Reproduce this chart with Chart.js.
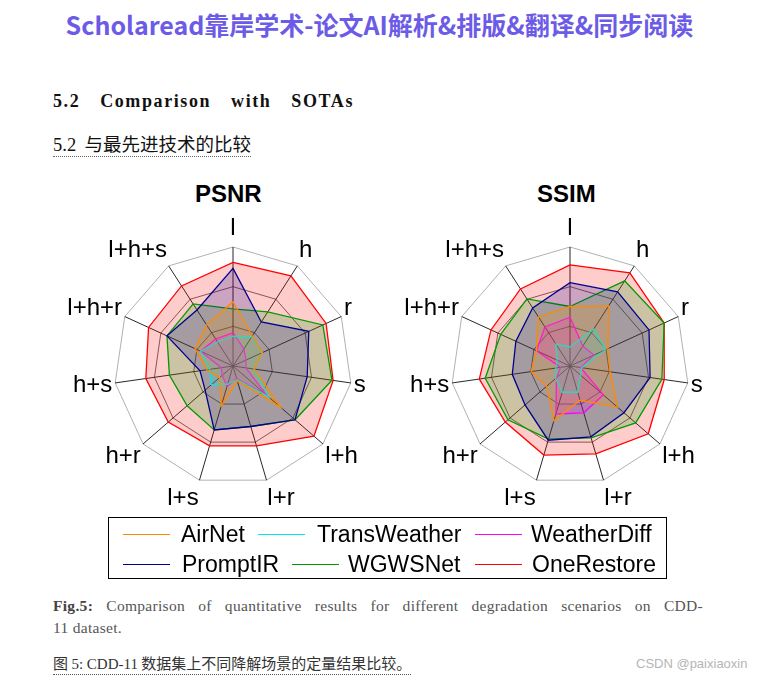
<!DOCTYPE html>
<html>
<head>
<meta charset="utf-8">
<script src="https://cdn.jsdelivr.net/npm/chart.js@4/dist/chart.umd.min.js"></script>
<style>
  html, body { margin: 0; padding: 0; background: #fff; }
  body { width: 759px; height: 682px; position: relative; overflow: hidden; }
  .abs { position: absolute; white-space: nowrap; }
  #banner { left: 0; width: 759px; top: 6px; text-align: center; font-family: "Noto Sans CJK SC", sans-serif; font-weight: bold; font-size: 25px; color: #6b5be6; }
  #sec { left: 53px; top: 91px; width: 301px; font-family: "Liberation Serif", serif; font-weight: bold; font-size: 18px; letter-spacing: 1.6px; color: #111; text-align: justify; text-align-last: justify; }
  #secZh { left: 53px; top: 132px; font-family: "Noto Sans CJK SC", sans-serif; font-size: 18.5px; color: #111; border-bottom: 1.5px dotted #666; line-height: 22px; }
  #secZh .num { font-family: "Liberation Serif", serif; }
  .ctitle { top: 180px; font-family: "Liberation Sans", Arial, sans-serif; font-weight: bold; font-size: 24px; color: #000; }
  canvas { position: absolute; }
  #legend { left: 108px; top: 517px; width: 557px; height: 60px; border: 1px solid #000; }
  .item { position: absolute; font-family: "Liberation Sans", Arial, sans-serif; font-size: 23px; color: #000; line-height: 26px; }
  .sw { position: absolute; height: 0; border-top: 1.6px solid; width: 47px; }
  #cap1 { left: 53px; top: 597px; width: 650px; font-family: "Liberation Serif", serif; font-size: 15.5px; letter-spacing: 0.3px; color: #555; text-align: justify; text-align-last: justify; }
  #cap2 { left: 53px; top: 619px; font-family: "Liberation Serif", serif; font-size: 15.5px; letter-spacing: 0.3px; color: #555; }
  #cap3 { left: 53px; top: 653px; font-family: "Noto Sans CJK SC", sans-serif; font-size: 15px; color: #333; border-bottom: 1.5px dotted #555; line-height: 19px; }
  #cap3 .num { font-family: "Liberation Serif", serif; }
  #csdn { left: 636px; top: 656px; font-family: "Liberation Sans", Arial, sans-serif; font-size: 13px; color: #b5b5b5; }
</style>
</head>
<body>
<div id="banner" class="abs">Scholaread靠岸学术-论文AI解析&amp;排版&amp;翻译&amp;同步阅读</div>
<div id="sec" class="abs">5.2 Comparison with SOTAs</div>
<div id="secZh" class="abs"><span class="num">5.2</span>&nbsp; 与最先进技术的比较</div>

<div class="abs ctitle" style="left:195px">PSNR</div>
<div class="abs ctitle" style="left:537px">SSIM</div>

<canvas id="psnrChart" width="360" height="320" style="left:53px; top:206px"></canvas>
<canvas id="ssimChart" width="360" height="320" style="left:390px; top:206px"></canvas>

<div id="legend" class="abs"></div>

<div id="cap1" class="abs"><b style="color:#444">Fig.5:</b> Comparison of quantitative results for different degradation scenarios on CDD-</div>
<div id="cap2" class="abs">11 dataset.</div>
<div id="cap3" class="abs">图 <span class="num">5: CDD-11</span> 数据集上不同降解场景的定量结果比较。</div>
<div id="csdn" class="abs">CSDN @paixiaoxin</div>

<script>
// axis order goes clockwise from the top
var axisLabels = ['l', 'h', 'r', 's', 'l+h', 'l+r', 'l+s', 'h+r', 'h+s', 'l+h+r', 'l+h+s'];
var methods = ['AirNet', 'TransWeather', 'WeatherDiff', 'PromptIR', 'WGWSNet', 'OneRestore'];

// values are normalised radii (0 = centre, 1 = outer ring)
var airnetPsnr  = [0.54, 0.30, 0.27, 0.18, 0.53, 0.13, 0.35, 0.15, 0.22, 0.35, 0.41];
var transPsnr   = [0.25, 0.29, 0.27, 0.18, 0.40, 0.12, 0.16, 0.24, 0.20, 0.30, 0.24];
var diffPsnr    = [0.28, 0.17, 0.12, 0.11, 0.37, 0.11, 0.18, 0.12, 0.10, 0.30, 0.27];
var promptPsnr  = [0.82, 0.44, 0.70, 0.63, 0.69, 0.53, 0.56, 0.31, 0.28, 0.61, 0.56];
var wgwsPsnr    = [0.48, 0.54, 0.83, 0.84, 0.69, 0.53, 0.56, 0.51, 0.54, 0.61, 0.62];
var onePsnr     = [0.87, 0.90, 0.86, 0.85, 0.90, 0.70, 0.70, 0.72, 0.74, 0.78, 0.80];

var airnetSsim  = [0.50, 0.60, 0.35, 0.34, 0.53, 0.30, 0.48, 0.26, 0.33, 0.31, 0.49];
var transSsim   = [0.16, 0.37, 0.33, 0.10, 0.12, 0.23, 0.23, 0.16, 0.12, 0.12, 0.22];
var diffSsim    = [0.41, 0.20, 0.22, 0.09, 0.37, 0.41, 0.42, 0.15, 0.08, 0.31, 0.39];
var promptSsim  = [0.70, 0.74, 0.73, 0.68, 0.60, 0.62, 0.65, 0.50, 0.49, 0.50, 0.58];
var wgwsSsim    = [0.50, 0.85, 0.87, 0.78, 0.73, 0.63, 0.64, 0.69, 0.72, 0.64, 0.67];
var oneSsim     = [0.85, 0.93, 0.87, 0.80, 0.87, 0.77, 0.78, 0.72, 0.77, 0.73, 0.77];

var lineColors = ['#ff8a00', '#00e8e8', '#ff00ff', '#00008f', '#009a00', '#ff0000'];
var fillColors = ['rgba(255,138,0,0.2)', 'rgba(0,232,232,0.2)', 'rgba(255,0,255,0.2)',
                  'rgba(0,0,143,0.2)', 'rgba(0,154,0,0.2)', 'rgba(255,0,0,0.2)'];

// axis names sit just outside the outer ring: left/right aligned on the side
// spokes, centred on the top one
var spokeLabels = {
    id: 'spokeLabels',
    afterDraw: function(chart) {
        var scale = chart.scales.r;
        var ctx = chart.ctx;
        var dist = scale.drawingArea + 3;
        ctx.save();
        ctx.font = '24px "Liberation Sans", Arial, sans-serif';
        ctx.fillStyle = '#000';
        ctx.textAlign = 'center';
        ctx.textBaseline = 'middle';
        axisLabels.forEach(function(name, i) {
            var w = ctx.measureText(name).width;
            var edge = scale.getPointPosition(i, dist);
            var ux = (edge.x - scale.xCenter) / dist;
            var uy = (edge.y - scale.yCenter) / dist;
            var dx = Math.abs(ux) < 0.05 ? 0 : Math.sign(ux) * w / 2;
            ctx.fillText(name, edge.x + dx, edge.y + uy * 16);
        });
        ctx.restore();
    }
};

function makeDatasets(seriesList) {
    return seriesList.map(function(values, i) {
        return {
            label: methods[i],
            data: values,
            borderColor: lineColors[i],
            backgroundColor: fillColors[i],
            borderWidth: 1.3,
            pointRadius: 0,
            fill: true
        };
    });
}

function makeRadar(id, seriesList) {
    var ctx = document.getElementById(id).getContext('2d');
    return new Chart(ctx, {
        type: 'radar',
        data: { labels: axisLabels, datasets: makeDatasets(seriesList) },
        plugins: [spokeLabels],
        options: {
            responsive: false,
            animation: false,
            layout: { padding: { left: 61, right: 61, top: 41, bottom: 41 } },
            plugins: { legend: { display: false }, tooltip: { enabled: false } },
            scales: {
                r: {
                    min: 0,
                    max: 1,
                    ticks: { display: false, count: 4 },
                    grid: {
                        circular: false,
                        color: function(c) { return c.index === 3 ? '#a8a8a8' : '#5a5a5a'; },
                        lineWidth: 0.9
                    },
                    angleLines: { color: '#111', lineWidth: 0.9 },
                    pointLabels: { display: false }
                }
            }
        }
    });
}

makeRadar('psnrChart', [airnetPsnr, transPsnr, diffPsnr, promptPsnr, wgwsPsnr, onePsnr]);
makeRadar('ssimChart', [airnetSsim, transSsim, diffSsim, promptSsim, wgwsSsim, oneSsim]);

// legend drawn as plain text in the boxed layout of the figure
var legendPos = [
    { x: 14, y: 16, tx: 72 }, { x: 149, y: 16, tx: 208 }, { x: 366, y: 16, tx: 422 },
    { x: 14, y: 46, tx: 73 }, { x: 183, y: 46, tx: 239 }, { x: 366, y: 46, tx: 423 }
];
var legend = document.getElementById('legend');
methods.forEach(function(name, i) {
    var p = legendPos[i];
    var sw = document.createElement('div');
    sw.className = 'sw';
    sw.style.left = p.x + 'px';
    sw.style.top = p.y + 'px';
    sw.style.borderColor = lineColors[i];
    legend.appendChild(sw);
    var t = document.createElement('div');
    t.className = 'item';
    t.textContent = name;
    t.style.left = p.tx + 'px';
    t.style.top = (p.y - 13) + 'px';
    legend.appendChild(t);
});
</script>
</body>
</html>
